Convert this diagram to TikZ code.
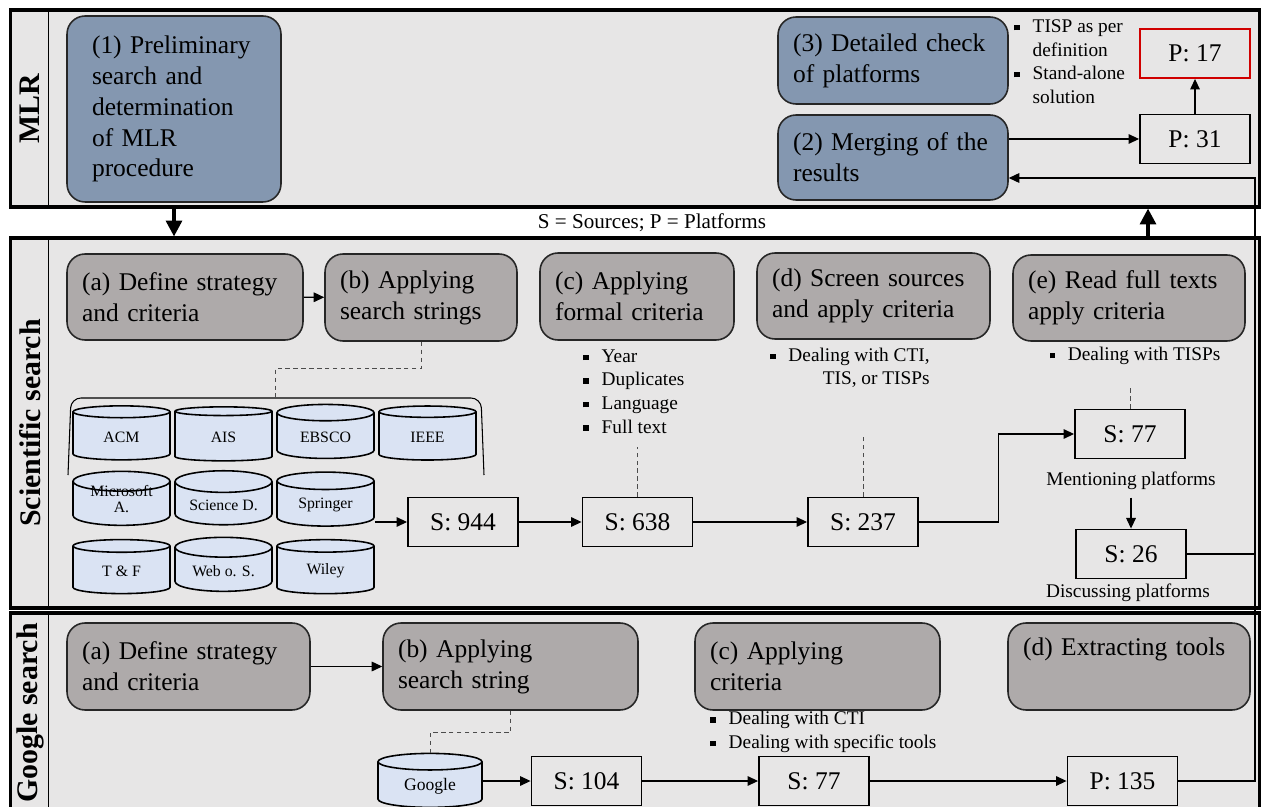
\documentclass[tikz,border=0pt]{standalone}
\usepackage{fontspec}
\setmainfont{Liberation Serif}
\usetikzlibrary{arrows.meta,shapes.geometric}
\definecolor{lanebg}{HTML}{E7E6E6}
\definecolor{mlrblue}{HTML}{8497B0}
\definecolor{stepgray}{HTML}{AEAAAA}
\definecolor{dbblue}{HTML}{DAE3F3}
\definecolor{hitred}{HTML}{D00000}
\newcommand\sqbul{\raisebox{0.25ex}{\rule{0.28em}{0.28em}}}
\newcommand\itm{\makebox[0.95em][l]{\sqbul}}
\newcommand\noteind{\hspace*{0.95em}}
\tikzset{
  lane/.style={draw, line width=1.8pt, fill=lanebg, inner sep=0pt},
  lanelab/.style={rotate=90, font=\fontsize{17}{20}\selectfont\bfseries},
  stepbox/.style={draw=black!85, line width=0.9pt, rounded corners=0.36cm, align=left,
    inner xsep=0.3cm, font=\fontsize{14.5}{17.6}\selectfont},
  mlrstep/.style={stepbox, fill=mlrblue},
  scistep/.style={stepbox, fill=stepgray},
  res/.style={draw, line width=1.1pt, minimum width=2.2cm, minimum height=0.98cm,
    font=\fontsize{14.5}{17.6}\selectfont},
  db/.style={cylinder, shape border rotate=90, aspect=0.3, draw, line width=0.9pt,
    fill=dbblue, minimum width=1.94cm, minimum height=1.08cm, align=center,
    font=\fontsize{9}{10}\selectfont, inner sep=1pt},
  note/.style={font=\fontsize{11}{13.4}\selectfont, inner sep=0pt},
  flow/.style={-{Triangle[length=6pt,width=5.5pt]}, line width=0.6pt},
  link/.style={line width=0.6pt},
  hint/.style={dash pattern=on 2.5pt off 2pt, line width=0.5pt, draw=black!70},
  bigflow/.style={-{Triangle[length=9pt,width=9pt]}, line width=2pt}
}
\begin{document}
\begin{tikzpicture}[x=0.02cm, y=-0.02cm]
  \clip (0,0) rectangle (1264,807);
  \fill[white] (0,0) rectangle (1264,807);

  % lanes
  \node[lane, minimum width=25cm, minimum height=3.94cm] (mlr) at (635,108.5) {};
  \node[lane, minimum width=25cm, minimum height=7.4cm] (sci) at (635,423) {};
  \node[lane, minimum width=25cm, minimum height=4cm] (ggl) at (635,713) {};
  \foreach \l in {mlr,sci,ggl}
    \draw[line width=1pt] ([xshift=0.8cm]\l.north west) -- ([xshift=0.8cm]\l.south west);
  \node[lanelab] (mlrlab) at (30,108.5) {MLR};
  \node[lanelab] (scilab) at (30,423) {Scientific search};
  \node[lanelab] (ggllab) at (30,713) {Google search};
  \node[font=\fontsize{12}{14}\selectfont] (legend) at (652,223) {S = Sources; P = Platforms};

  % MLR
  \node[mlrstep, inner xsep=0.5cm, text width=3.28cm, minimum height=3.72cm] (m1) at (174,109)
    {(1) Preliminary\\search and\\determination\\of MLR\\procedure};
  \node[mlrstep, text width=4cm, minimum height=1.74cm] (m3) at (893,60.5) {(3) Detailed check\\of platforms};
  \node[mlrstep, text width=4cm, minimum height=1.7cm] (m2) at (893,157.5) {(2) Merging of the\\results};
  \node[note, anchor=west, align=left] (chk) at (1014,61.5)
    {\itm TISP as per\\\noteind definition\\\itm Stand-alone\\\noteind solution};
  \node[res, draw=hitred] (p17) at (1195,53.5) {P: 17};
  \node[res] (p31) at (1195,139) {P: 31};
  \draw[flow] (p31) -- (p17);
  \draw[flow] (m2.east |- p31) -- (p31);

  % scientific search
  \node[scistep, text width=4.12cm, minimum height=1.72cm] (sa) at (185,297) {(a) Define strategy\\and criteria};
  \node[scistep, text width=3.24cm, minimum height=1.74cm] (sb) at (421,297.5) {(b) Applying\\search strings};
  \node[scistep, text width=3.28cm, minimum height=1.74cm] (sc) at (637,296.5) {(c) Applying\\formal criteria};
  \node[scistep, text width=4.06cm, minimum height=1.72cm] (sd) at (873.5,296) {(d) Screen sources\\and apply criteria};
  \node[scistep, text width=4.04cm, minimum height=1.72cm] (se) at (1129,298) {(e) Read full texts\\apply criteria};
  \draw[flow] (sa) -- (sb);

  \node[note, anchor=west, align=left] (crc) at (583,391.5)
    {\itm Year\\\itm Duplicates\\\itm Language\\\itm Full text};
  \node[note, anchor=east, align=right] (crd) at (930,368) {\itm Dealing with CTI,\\TIS, or TISPs};
  \node[note] (cre) at (1135,356) {\itm Dealing with TISPs};

  \foreach \name/\lbl [count=\i from 0] in {acm/ACM, ais/AIS, ebsco/EBSCO, ieee/IEEE}
    \node[db] (\name) at (121.5+102*\i,437) {\lbl};
  \foreach \name/\lbl [count=\i from 0] in {msa/{\smash{\begin{tabular}{@{}c@{}}Microsoft\\[-1pt]A.\end{tabular}}}, scd/Science D., spr/Springer}
    \node[db] (\name) at (121.5+102*\i,505) {\lbl};
  \foreach \name/\lbl [count=\i from 0] in {tf/T \& F, wos/Web o. S., wil/Wiley}
    \node[db] (\name) at (121.5+102*\i,571) {\lbl};
  \coordinate (dbs) at (275,398);
  \draw[link, rounded corners=0.2cm] (68,475) -- (71,398) -- (481,398) -- (484,475);
  \draw[hint] (sb.south) -- ++(0,27) -| (dbs);

  \node[res] (s944) at (463,522) {S: 944};
  \node[res] (s638) at (637.5,522) {S: 638};
  \node[res] (s237) at (863,522) {S: 237};
  \node[res] (s77) at (1130,434) {S: 77};
  \node[res] (s26) at (1131,554) {S: 26};
  \node[note] (s77lab) at (1131,481) {Mentioning platforms};
  \node[note] (s26lab) at (1128,593) {Discussing platforms};

  \draw[flow] (spr.east |- s944.west) -- (s944.west);
  \draw[flow] (s944) -- (s638);
  \draw[flow] (s638) -- (s237);
  \draw[flow] (s237.east) -- ++(80,0) |- (s77.west);
  \draw[flow] ([yshift=-0.15cm]s77lab.south) -- (s26.north);
  \draw[hint] (s638.north) -- ++(0,-50);
  \draw[hint] (s237.north) -- ++(0,-61);
  \draw[hint] (s77.north) -- ++(0,-22);

  % google search
  \node[scistep, text width=4.26cm, minimum height=1.74cm] (ga) at (188.5,666.5) {(a) Define strategy\\and criteria};
  \node[scistep, text width=4.5cm, minimum height=1.74cm] (gb) at (510.5,666.5) {(b) Applying\\search string};
  \node[scistep, text width=4.3cm, minimum height=1.74cm] (gc) at (817.5,666.5) {(c) Applying\\criteria};
  \node[scistep, text width=4.24cm, minimum height=1.74cm] (gd) at (1129,666.5) {(d) Extracting tools\\\strut};
  \draw[flow] (ga) -- (gb);
  \node[note, anchor=west, align=left] (crg) at (710,732)
    {\itm Dealing with CTI\\\itm Dealing with specific tools};

  \node[db, minimum width=2.08cm, font=\fontsize{10}{12}\selectfont] (goo) at (430,786) {Google};
  \node[res] (s104) at (586.5,781) {S: 104};
  \node[res] (g77) at (814,781) {S: 77};
  \node[res] (p135) at (1122.5,781) {P: 135};
  \draw[hint] (gb.south) -- ++(0,22) -| (goo.north);
  \draw[flow] (goo.east |- s104) -- (s104);
  \draw[flow] (s104) -- (g77);
  \draw[flow] (g77) -- (p135);

  % between lanes and back to MLR
  \coordinate (upx) at (1148,223);
  \draw[bigflow] (mlr.south -| m1) -- (sci.north -| m1);
  \draw[bigflow] (sci.north -| upx) -- (mlr.south -| upx);
  \coordinate (fb) at (1255,178);
  \draw[flow] (s26.east) -- (s26.east -| fb) -- (fb) -- (fb -| m2.east);
  \draw[link] (p135.east) -- (p135.east -| fb) -- (s26.east -| fb);
\end{tikzpicture}
\end{document}
